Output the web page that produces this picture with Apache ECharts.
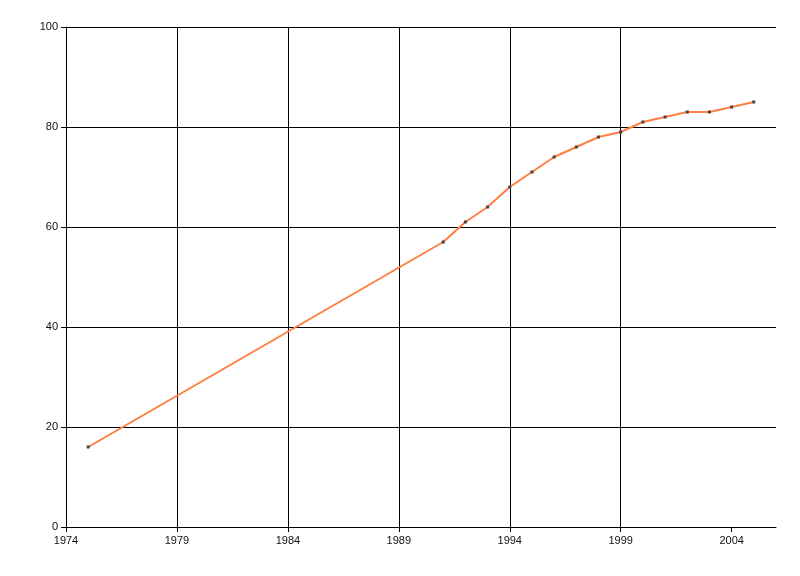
<!DOCTYPE html>
<html>
<head>
<meta charset="utf-8">
<script src="https://cdn.jsdelivr.net/npm/echarts@6/dist/echarts.min.js"></script>
<style>html,body{margin:0;padding:0;background:#fff}#c{width:800px;height:576px}</style>
</head>
<body>
<div id="c"></div>
<script>
const years = [1975, 1991, 1992, 1993, 1994, 1995, 1996, 1997, 1998, 1999, 2000, 2001, 2002, 2003, 2004, 2005];
const values = [16, 57, 61, 64, 68, 71, 74, 76, 78, 79, 81, 82, 83, 83, 84, 85];
const xTicks = [1974, 1979, 1984, 1989, 1994, 1999, 2004];
const yTicks = [0, 20, 40, 60, 80, 100];

const chart = echarts.init(document.getElementById('c'));
const fontFamily = '"Liberation Sans Narrow", "Liberation Sans", sans-serif';
chart.setOption({
  animation: false,
  grid: { left: 66, right: 24, top: 27, bottom: 49, containLabel: false },
  xAxis: {
    type: 'value', min: 1974, max: 2006, interval: 5,
    axisLine: { show: true, onZero: false, lineStyle: { color: '#000', width: 1 } },
    axisTick: { show: true, length: 5, lineStyle: { color: '#000' }, customValues: xTicks },
    axisLabel: { color: '#111', fontFamily, fontSize: 11, margin: 8, customValues: xTicks, formatter: v => String(v) },
    splitLine: { show: true, showMinLine: true, showMaxLine: false, lineStyle: { color: '#000', width: 1 } }
  },
  yAxis: {
    type: 'value', min: 0, max: 100, interval: 20,
    axisLine: { show: true, lineStyle: { color: '#000', width: 1 } },
    axisTick: { show: true, length: 5, lineStyle: { color: '#000' } },
    axisLabel: { color: '#111', fontFamily, fontSize: 11, margin: 8 },
    splitLine: { show: true, lineStyle: { color: '#000', width: 1 } }
  },
  series: [{
    type: 'line',
    data: years.map((y, i) => [y, values[i]]),
    lineStyle: { color: '#FF7F40', width: 2 },
    itemStyle: { color: '#444' },
    symbol: 'rect', symbolSize: 3, showSymbol: true,
    emphasis: { disabled: true }
  }]
});
</script>
</body>
</html>
